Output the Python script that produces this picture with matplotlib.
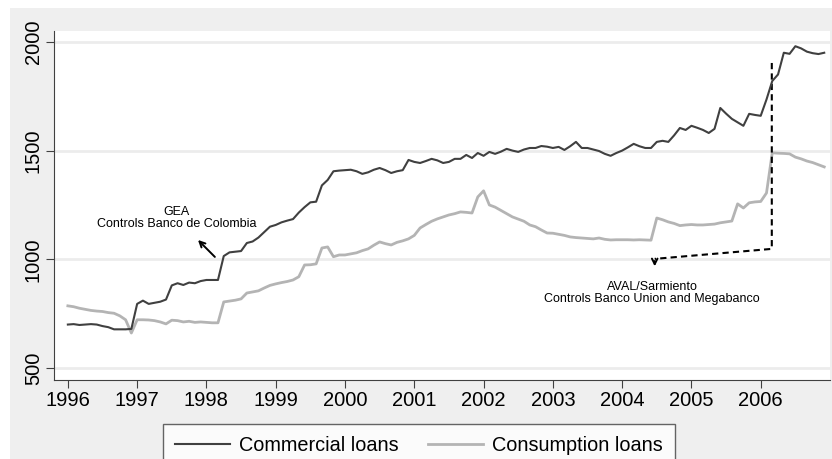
import numpy as np
import matplotlib.pyplot as plt
from matplotlib.patches import Rectangle

plt.rcParams['font.family'] = ['Liberation Sans', 'DejaVu Sans']

# monthly series, Jan 1996 - Dec 2006
commercial = [
    700, 702, 698, 700, 702, 700, 693, 688, 678, 678, 678, 680,          # 1996
    795, 810, 795, 800, 805, 815, 880, 890, 882, 893, 890, 900,          # 1997
    905, 905, 905, 1015, 1032, 1035, 1038, 1075, 1082, 1100, 1125, 1150,  # 1998
    1158, 1170, 1178, 1185, 1215, 1240, 1262, 1265, 1340, 1365, 1405, 1408,
    1410, 1412, 1405, 1393, 1400, 1412, 1420, 1410, 1397, 1405, 1410, 1457,
    1448, 1443, 1452, 1462, 1455, 1443, 1448, 1462, 1462, 1480, 1466, 1489,
    1476, 1494, 1485, 1495, 1508, 1500, 1494, 1505, 1512, 1512, 1521, 1518,
    1512, 1517, 1503, 1520, 1540, 1512, 1512, 1505, 1498, 1485, 1476, 1489,
    1500, 1515, 1531, 1520, 1512, 1512, 1540, 1545, 1540, 1570, 1604, 1595,
    1614, 1605, 1595, 1581, 1600, 1696, 1670, 1646, 1630, 1614, 1669, 1664,
    1660, 1735, 1820, 1850, 1950, 1945, 1980, 1970, 1955, 1948, 1944, 1950,
]
consumption = [
    786, 782, 775, 770, 765, 762, 760, 755, 752, 740, 722, 661,
    722, 722, 721, 718, 712, 703, 720, 718, 712, 715, 710, 712,
    710, 708, 708, 804, 808, 812, 818, 845, 850, 855, 868, 880,
    887, 893, 898, 905, 920, 974, 975, 979, 1052, 1057, 1012, 1020,
    1020, 1025, 1030, 1040, 1048, 1065, 1080, 1072, 1066, 1078, 1085, 1094,
    1110, 1144, 1160, 1175, 1186, 1195, 1204, 1210, 1218, 1216, 1213, 1287,
    1315, 1250, 1240, 1225, 1210, 1195, 1185, 1175, 1158, 1150, 1135, 1121,
    1120, 1115, 1110, 1103, 1100, 1098, 1096, 1094, 1098, 1092, 1089, 1090,
    1090, 1090, 1089, 1090, 1089, 1088, 1190, 1182, 1172, 1165, 1155, 1158,
    1160, 1158, 1158, 1160, 1162, 1168, 1172, 1176, 1255, 1236, 1260, 1264,
    1266, 1305, 1490, 1488, 1487, 1485, 1470, 1462, 1452, 1445, 1435, 1425,
]
years = list(range(1996, 2007))
yticks = [500, 1000, 1500, 2000]

t = 1996 + np.arange(len(commercial)) / 12.0

fig = plt.figure(figsize=(8.32, 4.59), dpi=100)
fig.patches.append(Rectangle((10 / 832, 0), 1, 1 - 8 / 459, transform=fig.transFigure,
                             facecolor='#efefef', edgecolor='none', zorder=-10))
ax = fig.add_axes([54 / 832, 1 - 380 / 459, 776 / 832, 349 / 459])
ax.set_facecolor('white')

ax.plot(t, commercial, color='#404040', lw=1.5, label='Commercial loans', zorder=3)
ax.plot(t, consumption, color='#b4b4b4', lw=2.0, label='Consumption loans', zorder=2)

ax.set_xlim(1995.8, 2007.0)
ax.set_ylim(445, 2050)
ax.set_xticks(years)
ax.set_yticks(yticks)
ax.tick_params(axis='x', labelsize=14.5, length=6, color='#404040', pad=2)
ax.tick_params(axis='y', labelsize=14.5, length=6, color='#404040', labelrotation=90, pad=2)
for lab in ax.get_yticklabels():
    lab.set_va('center')
ax.grid(axis='y', color='#ececec', lw=2)
ax.set_axisbelow(True)
for s in ['top', 'right']:
    ax.spines[s].set_visible(False)
for s in ['left', 'bottom']:
    ax.spines[s].set_color('#404040')

# GEA annotation
ax.annotate('', xy=(1997.85, 1098), xytext=(1998.15, 1002),
            arrowprops=dict(arrowstyle='->', color='black', lw=1.4))
ax.text(1997.57, 1190, 'GEA\nControls Banco de Colombia', ha='center', va='center',
        fontsize=9, linespacing=1.0)

# AVAL annotation
ax.plot([2006.16, 2006.16, 2004.47], [1903, 1048, 1002], color='black', lw=1.5,
        ls=(0, (3, 2)))
ax.annotate('', xy=(2004.47, 955), xytext=(2004.47, 1005),
            arrowprops=dict(arrowstyle='->', color='black', lw=1.4))
ax.text(2004.43, 845, 'AVAL/Sarmiento\nControls Banco Union and Megabanco', ha='center',
        va='center', fontsize=9, linespacing=1.0)

leg = fig.legend(loc='upper left', bbox_to_anchor=(163 / 832, 1 - 424 / 459), ncol=2,
                 fontsize=14.3, handlelength=2.75, columnspacing=1.45, frameon=True,
                 fancybox=False, borderpad=0.6, handletextpad=0.5, borderaxespad=0)
leg.get_frame().set_edgecolor('#404040')
leg.get_frame().set_linewidth(1.0)

fig.savefig('out.png', dpi=100)
